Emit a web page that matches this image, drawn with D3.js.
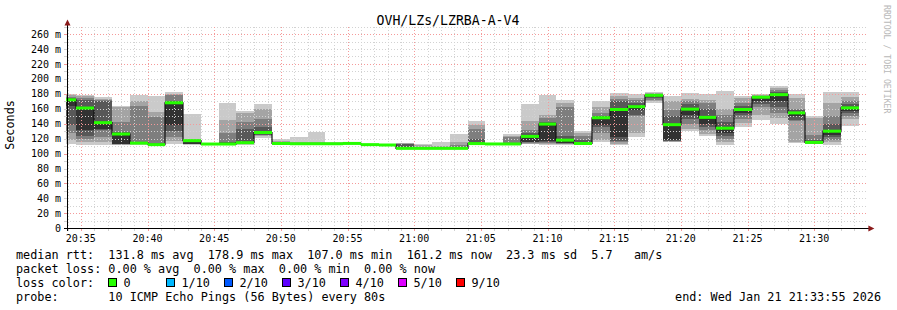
<!DOCTYPE html>
<html><head><meta charset="utf-8">
<script src="https://cdn.jsdelivr.net/npm/d3@7"></script>
<style>
html,body{margin:0;padding:0;background:#fff;}
svg{display:block;}
text{font-family:"DejaVu Sans Mono",monospace;fill:#000;}
</style>
</head><body>
<svg id="c" width="897" height="310"></svg>
<script>
const title = "OVH/LZs/LZRBA-A-V4";
const windowStart = "20:33:55";
const windowEnd = "21:33:55";
const stepSeconds = 80;
const stepEnds = ["20:34:40","20:36:00","20:37:20","20:38:40","20:40:00","20:41:20","20:42:40","20:44:00","20:45:20","20:46:40",
  "20:48:00","20:49:20","20:50:40","20:52:00","20:53:20","20:54:40","20:56:00","20:57:20","20:58:40","21:00:00",
  "21:01:20","21:02:40","21:04:00","21:05:20","21:06:40","21:08:00","21:09:20","21:10:40","21:12:00","21:13:20",
  "21:14:40","21:16:00","21:17:20","21:18:40","21:20:00","21:21:20","21:22:40","21:24:00","21:25:20","21:26:40",
  "21:28:00","21:29:20","21:30:40","21:32:00","21:33:20"];
const medians = [172,161,141.4,126.2,114,112,168,117.3,112.8,112.8,
  114.6,128.2,113.5,113.2,113.2,113.2,113.6,112,111.5,107.0,
  107,107,107,113.4,112.9,112.9,123,139.5,118,113.5,
  148,159,162.8,178,138.7,159.5,148.5,134,159,175.5,
  178.9,154.5,115,130,161.2];
const pings = [
  [113,118,128,138,164,172,174,176,178,179.3],
  [112,115,119,123,131,161,172,175,177,179],
  [112,116,122,131,133,141.4,170,172,173,175.5],
  [111,112,112.5,113,113.3,126.2,129,142,163,164],
  [112,112.5,113,113.3,113.6,114,115,164,171,178.5],
  [110.5,111,111.3,111.6,111.8,112,114,149,156,177],
  [113,117,122,130,138,168,171,178,180,182.5],
  [112,112.3,112.6,112.8,113,117.3,118,118.5,119,153],
  [111.5,111.8,112,112.2,112.5,112.8,113,113.3,113.6,114],
  [111.5,111.8,112,112.3,112.5,112.8,115,128,145.5,168.2],
  [112,112.5,113,113.5,114,114.6,133,142,154,157],
  [121.5,123,124.5,125,126,128.2,135,146,160,166],
  [112,112.3,112.6,112.9,113.2,113.5,114,115,116.5,119],
  [112,112.3,112.6,112.8,113,113.2,113.5,114,115,122.5],
  [112,112.3,112.6,112.8,113,113.2,113.5,114,115,129],
  [112.2,112.4,112.6,112.8,113,113.2,113.4,113.8,114.5,115.5],
  [112.5,112.8,113,113.2,113.4,113.6,113.8,114,114.5,115.5],
  [111,111.3,111.5,111.7,111.9,112,112.2,112.5,112.8,113],
  [110.8,111,111.2,111.3,111.4,111.5,111.7,112,112.3,112.6],
  [106,106.2,106.4,106.6,106.8,107,113,113.5,114,114.6],
  [106.2,106.4,106.6,106.8,106.9,107,108,109,111,112.8],
  [106.2,106.4,106.6,106.8,106.9,107,107.5,108,110,116],
  [106.2,106.4,106.6,106.8,106.9,107,108,111,115.5,126.4],
  [112.2,112.5,112.8,113,113.2,113.4,119,133,138,143.5],
  [112,112.2,112.4,112.5,112.7,112.9,113,113.2,113.4,113.6],
  [112,112.2,112.4,112.5,112.7,112.9,114,122,123,125.7],
  [112.5,113,114,115,116,123,128,131,143,166.4],
  [112,113,114.5,116,117,139.5,142,147,152,178],
  [112,112.5,113,114,114.5,118,124,163,168,172.2],
  [111,111.5,112,112.5,113,113.5,118,124,127,130],
  [116,118,127,135,138,148,150,155,162,170.3],
  [111.5,113,115,117,122,159,170,173,177,181],
  [121.8,127,150,152,158,162.8,168,172,175,179.8],
  [167.3,170,172,174,176,178,179,180,181,182.5],
  [115.5,116,116.5,117,118,138.7,150,158.5,170,177],
  [130,132.5,140,146,152,159.5,166,170,173,180.5],
  [124,126,132,136,140,148.5,160,168,172,179.4],
  [112,115,120,124,128,134,142,152,160,184],
  [136,141.5,146,151.5,155,159,164,168,174,177],
  [145,152,162,167,170,175.5,176.5,177.5,178.5,179.5],
  [140,148,155,162,170,178.9,182,185,188,190.5],
  [114.5,116,143,145,150,154.5,158,160,175,179.8],
  [112.5,113,113.5,114,114.5,115,118,125,148,150],
  [111.5,115,118,122,125,130,140,150,168,182.5],
  [137,146,150,154,157,161.2,166,170,176,182.5]
];
const yTicks = [0,20,40,60,80,100,120,140,160,180,200,220,240,260];
const yMax = 270;
const xTickLabels = ["20:35","20:40","20:45","20:50","20:55","21:00","21:05","21:10","21:15","21:20","21:25","21:30"];
const smokeColors = ["#cacaca","#a4a4a4","#7e7e7e","#585858","#323232"];
const lossLabels = ["0","1/10","2/10","3/10","4/10","5/10","9/10"];
const lossColors = ["#26ff00","#00b8ff","#0059ff","#5e00ff","#7e00ff","#dd00ff","#ff0000"];
const legendLines = [
  "median rtt:  131.8 ms avg  178.9 ms max  107.0 ms min  161.2 ms now  23.3 ms sd  5.7   am/s",
  "packet loss: 0.00 % avg  0.00 % max  0.00 % min  0.00 % now",
  "loss color:",
  "probe:       10 ICMP Echo Pings (56 Bytes) every 80s"
];
const endText = "end: Wed Jan 21 21:33:55 2026";
const yTitle = "Seconds";
const watermark = "RRDTOOL / TOBI OETIKER";

function t(s){const [h,m,sec]=s.split(":").map(Number);return new Date(2026,0,21,h,m,sec||0);}

const svg = d3.select("#c");
const L = 66.4, R = 866.4, B = 228.3, T = 26.6;
const x = d3.scaleTime().domain([t(windowStart), t(windowEnd)]).range([L, R]);
const y = d3.scaleLinear().domain([0, yMax]).range([B, T]);
const axX = 67, axY = 228;
const minorCol = "#d2d2d2", majorCol = "#f59a9a";

svg.append("rect").attr("width",897).attr("height",310).attr("fill","#fff");

// steps
const steps = stepEnds.map((s,i)=>{
  const e = t(s);
  const st = new Date(Math.max(+e - stepSeconds*1000, +t(windowStart)));
  return {x0: Math.round(x(st)), x1: Math.round(x(e)), p: pings[i], m: medians[i]};
});

// smoke
const smoke = svg.append("g").attr("shape-rendering","crispEdges");
steps.forEach(d=>{
  for(let k=0;k<5;k++){
    const lo = d.p[k], hi = d.p[9-k];
    const yt = Math.round(y(hi)), yb = Math.round(y(lo));
    smoke.append("rect").attr("x",d.x0).attr("width",d.x1-d.x0)
      .attr("y",yt).attr("height",Math.max(1,yb-yt)).attr("fill",smokeColors[k]);
  }
});

// grid
const grid = svg.append("g").attr("shape-rendering","crispEdges");
const minorY = d3.range(10, yMax+1, 10);
minorY.forEach(v=>{
  const major = (v % 40) === 20;
  const yy = Math.round(y(v))+0.5;
  grid.append("line").attr("x1",axX).attr("x2",R+1).attr("y1",yy).attr("y2",yy)
    .attr("stroke", major ? majorCol : minorCol).attr("stroke-dasharray","1,2");
  grid.append("line").attr("x1",axX-3).attr("x2",axX).attr("y1",yy).attr("y2",yy)
    .attr("stroke", major ? majorCol : minorCol);
});
const minuteTicks = d3.timeMinute.every(1).range(t(windowStart), t(windowEnd));
minuteTicks.forEach(d=>{
  const major = d.getMinutes() % 5 === 0;
  const xx = Math.round(x(d))+0.5;
  grid.append("line").attr("x1",xx).attr("x2",xx).attr("y1",T).attr("y2",axY)
    .attr("stroke", major ? majorCol : minorCol).attr("stroke-dasharray","1,2");
  grid.append("line").attr("x1",xx).attr("x2",xx).attr("y1",axY).attr("y2",axY+3)
    .attr("stroke", major ? majorCol : minorCol);
});

// median step line (black connectors)
const pts = [];
steps.forEach(d=>{pts.push([d.x0, y(d.m)]);});
pts.push([steps[steps.length-1].x1, y(steps[steps.length-1].m)]);
svg.append("path").attr("d", d3.line().curve(d3.curveStepAfter)(pts))
  .attr("fill","none").attr("stroke","#111").attr("stroke-width",1.2);
// green median segments
svg.append("g").selectAll("line").data(steps).join("line")
  .attr("x1",d=>d.x0).attr("x2",d=>d.x1).attr("y1",d=>y(d.m)).attr("y2",d=>y(d.m))
  .attr("stroke",lossColors[0]).attr("stroke-width",3);

// axes
svg.append("line").attr("x1",axX+0.5).attr("x2",axX+0.5).attr("y1",axY+3).attr("y2",T-4)
  .attr("stroke","#000");
svg.append("line").attr("x1",axX-3).attr("x2",R+3).attr("y1",axY+0.5).attr("y2",axY+0.5)
  .attr("stroke","#000");
svg.append("path").attr("d",`M${axX-2.5},${T-1}L${axX+3.5},${T-1}L${axX+0.5},${T-7}Z`).attr("fill","#8b1a1a");
svg.append("path").attr("d",`M${R+2},${axY-2.5}L${R+2},${axY+3.5}L${R+8},${axY+0.5}Z`).attr("fill","#8b1a1a");

// y labels
svg.append("g").selectAll("text").data(yTicks).join("text")
  .attr("x",61).attr("y",d=>y(d)).attr("dy","0.36em").attr("text-anchor","end")
  .style("font-size","10px").style("white-space","pre")
  .text(d=> d===0 ? "0" : d+" m");

// x labels
svg.append("g").selectAll("text").data(xTickLabels).join("text")
  .attr("x",d=>x(t(d+":00"))).attr("y",241.5).attr("text-anchor","middle")
  .style("font-size","10px").text(d=>d);

// title
svg.append("text").attr("x",448).attr("y",24.5).attr("text-anchor","middle")
  .style("font-size","13.2px").text(title);

// y title
svg.append("text").attr("transform","translate(14,125) rotate(-90)").attr("text-anchor","middle")
  .style("font-size","11.8px").text(yTitle);

// watermark
svg.append("text").attr("transform","translate(884,5) rotate(90)")
  .style("font-size","8.2px").style("fill","#b8b8b8").text(watermark);

// legend
const rowsY = [258.5,272.5,286.5,300.5];
legendLines.forEach((s,i)=>{
  svg.append("text").attr("x",16).attr("y",rowsY[i]).style("font-size","11.8px")
    .style("white-space","pre").text(s);
});
lossLabels.forEach((lab,i)=>{
  const bx = 108.5 + 58*i;
  svg.append("rect").attr("x",bx).attr("y",278.5).attr("width",8).attr("height",8)
    .attr("fill",lossColors[i]).attr("stroke","#000").attr("stroke-width",1);
  svg.append("text").attr("x",bx+15).attr("y",rowsY[2]).style("font-size","11.8px").text(lab);
});
svg.append("text").attr("x",881).attr("y",rowsY[3]).attr("text-anchor","end")
  .style("font-size","11.8px").style("white-space","pre").text(endText);
</script>
</body></html>
